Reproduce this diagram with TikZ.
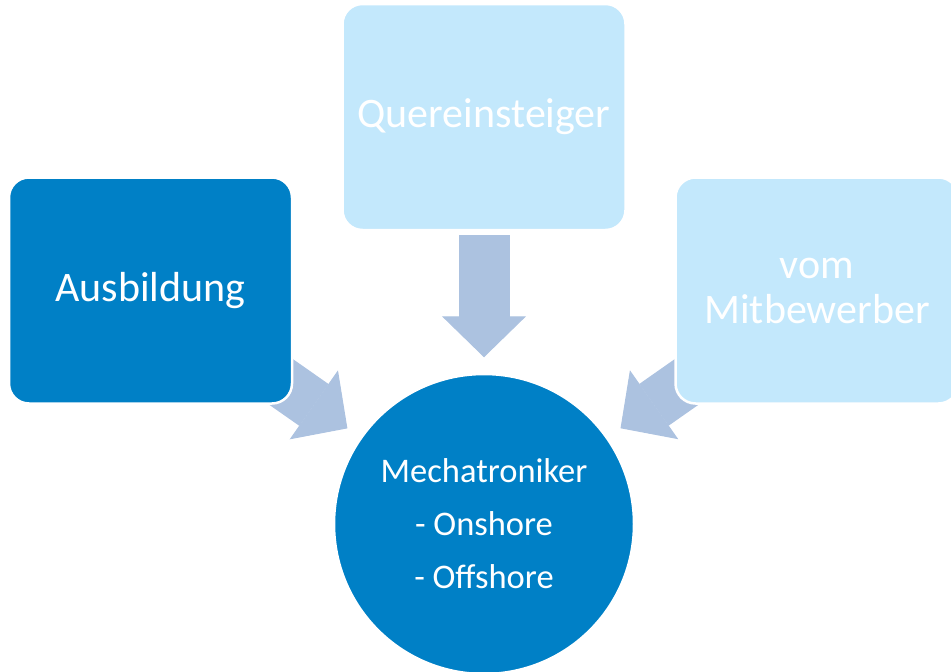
\documentclass[tikz,border=0pt]{standalone}
\usepackage{fontspec}
\setmainfont{Carlito}
\usetikzlibrary{arrows.meta,backgrounds}
\definecolor{darkblue}{RGB}{0,128,198}
\definecolor{paleblue}{RGB}{195,232,252}
\definecolor{arrowblue}{RGB}{172,194,224}

\begin{document}
\begin{tikzpicture}[x=1pt, y=-1pt,
        box/.style={rectangle, draw=white, line width=2.5pt, rounded corners=20pt, minimum width=283pt, minimum height=226pt, text=white, align=center, font=\fontsize{42}{45}\selectfont},
        bigarrow/.style={draw=arrowblue, line width=51pt, -{Triangle[length=41pt, width=84pt, line width=1pt]}, shorten >=15.5pt}]
        \useasboundingbox (0,0) rectangle (951,672);
        \clip (0,0) rectangle (951,672);
        \node (ausb) [box, fill=darkblue] at (150.5,290.5) {Ausbildung};
        \node (quer) [box, fill=paleblue] at (484,117) {Quereinsteiger};
        \node (mitb) [box, fill=paleblue] at (817,290.5) {vom\\Mitbewerber};
        \node (mech) [circle, draw=white, line width=2.5pt, fill=darkblue, minimum size=300pt, inner sep=0pt, text=white, align=center, font=\fontsize{34.5}{53}\selectfont] at (484,524) {Mechatroniker\\- Onshore\\- Offshore};

        \begin{scope}[on background layer]
            \draw[bigarrow] (ausb.center) -- (mech);
            \draw[bigarrow, shorten <=4pt] (quer.south) -- (mech);
            \draw[bigarrow] (mitb.center) -- (mech);
        \end{scope}
    \end{tikzpicture}
\end{document}
